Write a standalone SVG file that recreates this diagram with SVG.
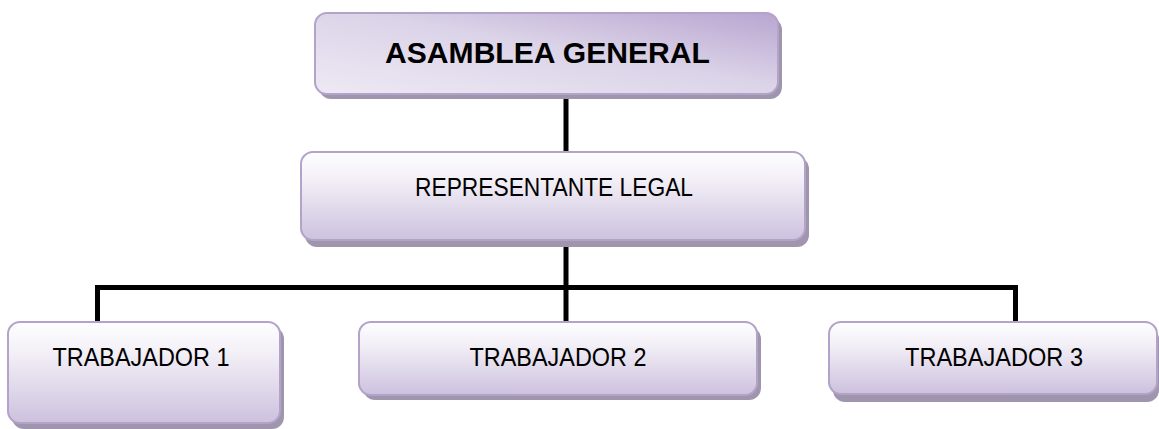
<svg xmlns="http://www.w3.org/2000/svg" width="1159" height="429" viewBox="0 0 1159 429">
  <defs>
    <linearGradient id="gTop" x1="1" y1="0" x2="0" y2="1">
      <stop offset="0" stop-color="#b8a5d0"/>
      <stop offset="0.45" stop-color="#dbd3e8"/>
      <stop offset="1" stop-color="#eee9f4"/>
    </linearGradient>
    <linearGradient id="gBox" x1="0" y1="0" x2="0" y2="1">
      <stop offset="0" stop-color="#fefeff"/>
      <stop offset="0.3" stop-color="#f3f0f7"/>
      <stop offset="1" stop-color="#cdc1de"/>
    </linearGradient>
  </defs>
  <style>
    .shadow { fill: #9f96ad; }
    .box { fill: url(#gBox); stroke: #b3a2c9; stroke-width: 2; }
    .top { fill: url(#gTop); stroke: #b3a2c9; stroke-width: 2; }
    .lbl { font-family: "Liberation Sans", Arial, sans-serif; font-size: 25px; fill: #000; text-anchor: middle; }
    .title { font-family: "Liberation Sans", Arial, sans-serif; font-size: 30px; font-weight: bold; fill: #000; text-anchor: middle; }
    .conn { stroke: #000; stroke-width: 5; fill: none; }
  </style>

  <g id="connectors">
    <line class="conn" x1="566" y1="94" x2="566" y2="152"/>
    <line class="conn" x1="566" y1="240" x2="566" y2="322"/>
    <polyline class="conn" points="97.5,322 97.5,287.5 1015.5,287.5 1015.5,322"/>
  </g>

  <g id="asamblea">
    <rect class="shadow" x="319" y="18" width="463" height="81" rx="12"/>
    <rect class="top" x="315" y="13" width="463" height="81" rx="12"/>
    <text class="title" x="547.5" y="63" textLength="325" lengthAdjust="spacingAndGlyphs">ASAMBLEA GENERAL</text>
  </g>

  <g id="representante">
    <rect class="shadow" x="305" y="157" width="504" height="90" rx="12"/>
    <rect class="box" x="301" y="152" width="504" height="88" rx="12"/>
    <text class="lbl" x="554" y="196" textLength="278" lengthAdjust="spacingAndGlyphs">REPRESENTANTE LEGAL</text>
  </g>

  <g id="trabajador1">
    <rect class="shadow" x="12" y="327" width="272" height="102" rx="12"/>
    <rect class="box" x="8" y="322" width="272" height="101" rx="12"/>
    <text class="lbl" x="141" y="366" textLength="177" lengthAdjust="spacingAndGlyphs">TRABAJADOR 1</text>
  </g>

  <g id="trabajador2">
    <rect class="shadow" x="363" y="327" width="398" height="73" rx="12"/>
    <rect class="box" x="359" y="322" width="398" height="73" rx="12"/>
    <text class="lbl" x="558" y="366" textLength="177" lengthAdjust="spacingAndGlyphs">TRABAJADOR 2</text>
  </g>

  <g id="trabajador3">
    <rect class="shadow" x="833" y="327" width="326" height="75" rx="12"/>
    <rect class="box" x="829" y="322" width="328" height="72" rx="12"/>
    <text class="lbl" x="994" y="366" textLength="178" lengthAdjust="spacingAndGlyphs">TRABAJADOR 3</text>
  </g>
</svg>
